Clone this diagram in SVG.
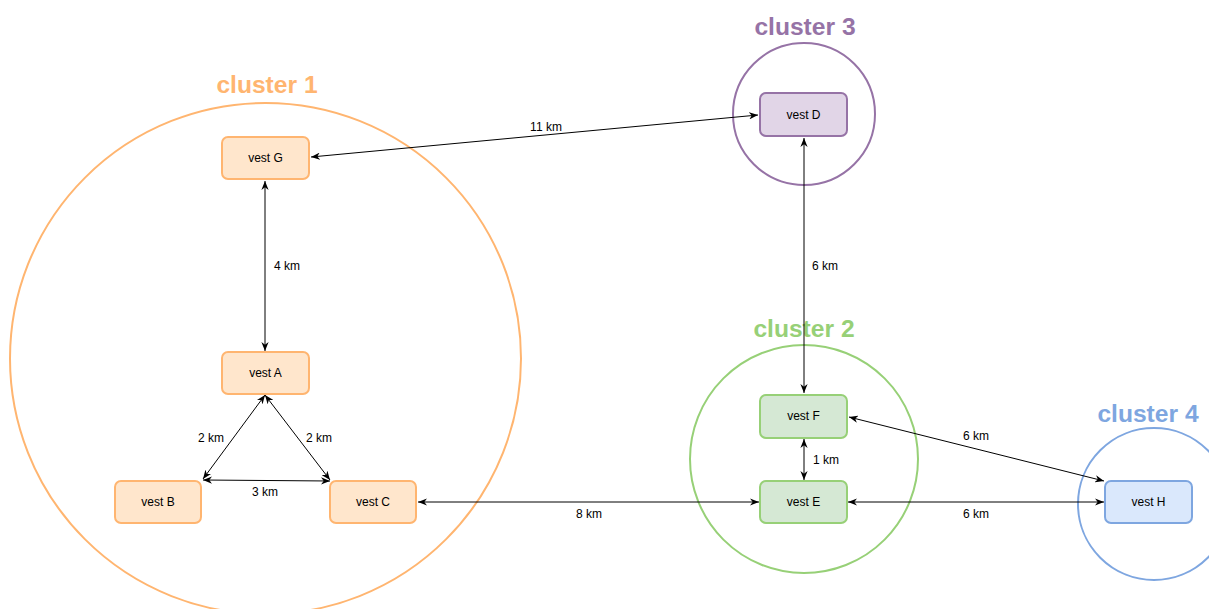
<svg xmlns="http://www.w3.org/2000/svg" width="1209" height="609" viewBox="0 0 1209 609">
<style>
.t{font-family:"Liberation Sans",Arial,sans-serif;font-size:12px;fill:#000;text-anchor:middle;dominant-baseline:central}
.h{font-family:"Liberation Sans",Arial,sans-serif;font-size:24.6px;font-weight:bold;text-anchor:middle}
.c{fill:none;stroke-width:2}
.n{stroke-width:2}
.e{stroke:#000;stroke-width:1;fill:none;marker-start:url(#a);marker-end:url(#a)}
</style>
<defs>
<marker id="a" viewBox="0 0 10 8" refX="10" refY="4" markerWidth="9" markerHeight="7.2" markerUnits="userSpaceOnUse" orient="auto-start-reverse">
<path d="M0,0 L10,4 L0,8 L3,4 z" fill="#000"/>
</marker>
</defs>
<rect width="1209" height="609" fill="#fff"/>
<g id="cluster1">
<circle class="c" cx="265.5" cy="358.5" r="255.5" stroke="#FFB570"/>
<text class="h" x="267" y="93" fill="#FFB570">cluster 1</text>
</g>
<g id="cluster3">
<circle class="c" cx="804" cy="114" r="71" stroke="#9673A6"/>
<text class="h" x="805" y="35" fill="#9673A6">cluster 3</text>
</g>
<g id="cluster2">
<circle class="c" cx="804" cy="459" r="114" stroke="#97D077"/>
<text class="h" x="804" y="337" fill="#97D077">cluster 2</text>
</g>
<g id="cluster4">
<circle class="c" cx="1154" cy="504" r="76" stroke="#7EA6E0"/>
<text class="h" x="1148" y="422" fill="#7EA6E0">cluster 4</text>
</g>
<g id="edges">
<line class="e" x1="311" y1="157" x2="758" y2="115"/>
<text class="t" x="546" y="127">11 km</text>
<line class="e" x1="265" y1="181" x2="265" y2="351"/>
<text class="t" x="287" y="266">4 km</text>
<line class="e" x1="265" y1="395" x2="203" y2="479"/>
<text class="t" x="211" y="438">2 km</text>
<line class="e" x1="265" y1="395" x2="330" y2="480"/>
<text class="t" x="319" y="438">2 km</text>
<line class="e" x1="203" y1="480" x2="330" y2="481"/>
<text class="t" x="265" y="492">3 km</text>
<line class="e" x1="418" y1="502" x2="759" y2="502"/>
<text class="t" x="589" y="514">8 km</text>
<line class="e" x1="804" y1="138" x2="804" y2="393"/>
<text class="t" x="825" y="266">6 km</text>
<line class="e" x1="804" y1="439" x2="804" y2="480"/>
<text class="t" x="826" y="460">1 km</text>
<line class="e" x1="849" y1="417" x2="1104" y2="481"/>
<text class="t" x="976" y="436">6 km</text>
<line class="e" x1="848" y1="502" x2="1104" y2="502"/>
<text class="t" x="976" y="514">6 km</text>
</g>
<g id="vestG"><rect class="n" x="222" y="137" width="87" height="42" rx="6" fill="#FFE6CC" stroke="#FFB570"/><text class="t" x="265.5" y="158">vest G</text></g>
<g id="vestA"><rect class="n" x="222" y="352" width="87" height="42" rx="6" fill="#FFE6CC" stroke="#FFB570"/><text class="t" x="265.5" y="373">vest A</text></g>
<g id="vestB"><rect class="n" x="115" y="481" width="86" height="42" rx="6" fill="#FFE6CC" stroke="#FFB570"/><text class="t" x="158" y="502">vest B</text></g>
<g id="vestC"><rect class="n" x="330" y="481" width="86" height="42" rx="6" fill="#FFE6CC" stroke="#FFB570"/><text class="t" x="373" y="502">vest C</text></g>
<g id="vestD"><rect class="n" x="760" y="93" width="87" height="43" rx="6" fill="#E1D5E7" stroke="#9673A6"/><text class="t" x="803.5" y="115">vest D</text></g>
<g id="vestF"><rect class="n" x="760" y="395" width="87" height="43" rx="6" fill="#D5E8D4" stroke="#97D077"/><text class="t" x="803.5" y="416">vest F</text></g>
<g id="vestE"><rect class="n" x="760" y="481" width="87" height="42" rx="6" fill="#D5E8D4" stroke="#97D077"/><text class="t" x="803.5" y="502">vest E</text></g>
<g id="vestH"><rect class="n" x="1105" y="481" width="87" height="42" rx="6" fill="#DAE8FC" stroke="#7EA6E0"/><text class="t" x="1148.5" y="502">vest H</text></g>
</svg>
